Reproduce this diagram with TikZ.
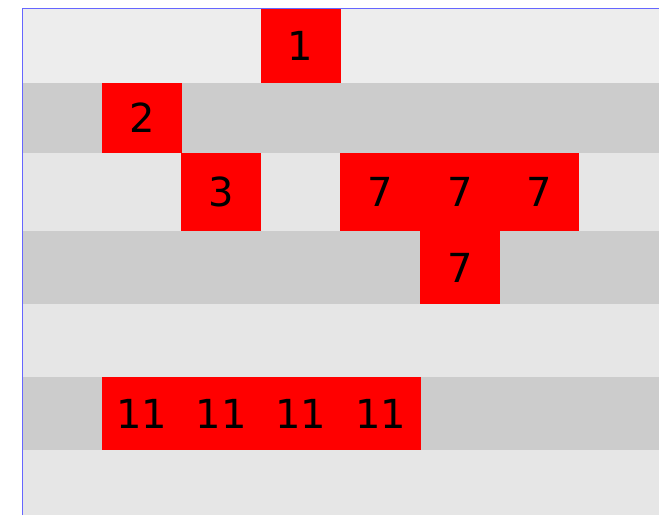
\documentclass[tikz,border=0pt]{standalone}
\usepackage{fontspec}
\newfontfamily\cellfont{DejaVu Sans}
\usetikzlibrary{positioning}
\definecolor{cband}{HTML}{E6E6E6}
\definecolor{ctop}{HTML}{EDEDED}
\definecolor{cdark}{HTML}{CCCCCC}
\definecolor{cframe}{HTML}{6666FF}
\definecolor{chit}{HTML}{FF0000}
\tikzset{
  every picture/.style={x=1pt, y=-1pt},
  band/.style={fill=#1, draw=none},
  band/.default=cband,
  hit/.style={fill=chit, draw=none, inner sep=0pt, minimum width=79.8pt,
    font=\cellfont\fontsize{40}{48}\selectfont, text=black},
  frame/.style={draw=cframe, line width=1pt},
}

\begin{document}
\begin{tikzpicture}
  \useasboundingbox (0,0) rectangle (659,515);
  % row bands
  \fill[band=ctop] (22,8) rectangle (659,83);
  \fill[band=cdark] (22,83) rectangle (659,153);
  \fill[band] (22,153) rectangle (659,231);
  \fill[band=cdark] (22,231) rectangle (659,304);
  \fill[band] (22,304) rectangle (659,377);
  \fill[band=cdark] (22,377) rectangle (659,450);
  \fill[band] (22,450) rectangle (659,515);
  % marked cells
  \node[hit, minimum height=75pt] (one) at (300.6,45.5) {1};
  \node[hit, minimum height=70pt] (two) at (141.8,118) {2};
  \node[hit, minimum height=78pt] (three) at (221,192) {3};
  \foreach \x [count=\i] in {380.2,459.8,539.4}
    \node[hit, minimum height=78pt] (seven\i) at (\x,192) {7};
  \node[hit, minimum height=73pt] (seven4) at (459.8,267.5) {7};
  \foreach \x [count=\i] in {141.8,221.4,301,380.6}
    \node[hit, minimum height=73pt] (eleven\i) at (\x,413.5) {11};
  % frame
  \draw[frame] (22,515) -- (22,8) -- (659,8);
\end{tikzpicture}
\end{document}
